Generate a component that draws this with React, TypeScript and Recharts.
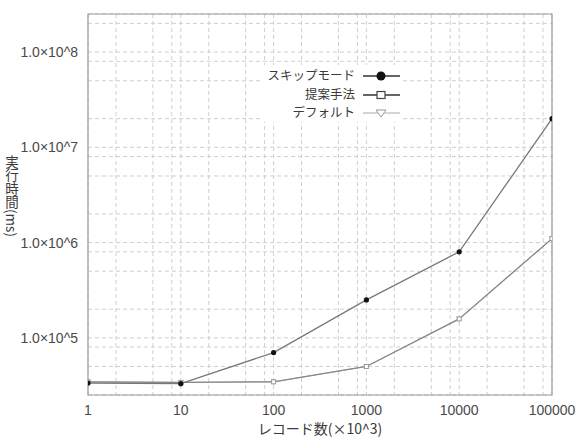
import React from 'react';
import {
  CartesianGrid,
  Line,
  LineChart,
  ReferenceArea,
  XAxis,
  YAxis,
} from 'recharts';

const records = [1, 10, 100, 1000, 10000, 100000];
const skipMode = [33500, 33000, 70000, 250000, 800000, 20000000];
const proposed = [34500, 34000, 34500, 50000, 158000, 1100000];
const defaults = [34500, 34000, 34500, 50000, 158000, 1100000];

const xTicks = [
  1, 2, 5, 8, 10, 20, 50, 80, 100, 200, 500, 800, 1000, 2000, 5000, 8000, 10000,
  20000, 50000, 80000, 100000,
];
const yTicks = [
  50000, 80000, 100000, 200000, 500000, 800000, 1000000, 2000000, 5000000,
  8000000, 10000000, 20000000, 50000000, 80000000, 100000000, 200000000,
];
const xDomain = [1, 100000];
const yDomain = [25100, 251000000];

const legendItems = ['スキップモード', '提案手法', 'デフォルト'];

const data = records.map((r, i) => ({
  r,
  skip: skipMode[i],
  proposed: proposed[i],
  def: defaults[i],
}));

const isPow10 = (v: number) => Math.abs(Math.log10(v) - Math.round(Math.log10(v))) < 1e-9;

const tickFont = { fontSize: 14, fill: '#4a4a4a', fontFamily: 'Liberation Sans, Arial, sans-serif' };

const CircleDot = (p: any) => <circle key={p.index} cx={p.cx} cy={p.cy} r={2.6} fill="#111" />;
const SquareDot = (p: any) => (
  <rect key={p.index} x={p.cx - 2} y={p.cy - 2} width={4} height={4} fill="#fff" stroke="#999" strokeWidth={1} />
);
const TriDot = (p: any) => (
  <path key={p.index} d={`M${p.cx - 2.5},${p.cy - 2}L${p.cx + 2.5},${p.cy - 2}L${p.cx},${p.cy + 2.5}Z`} fill="none" stroke="#aaa" strokeWidth={0.8} />
);

function Overlay() {
  const rows = [76, 95, 113];
  return (
    <svg width={577} height={438} style={{ position: 'absolute', left: 0, top: 0, pointerEvents: 'none' }}>
      <rect x={262} y={65} width={140} height={57} fill="#fff" />
      {legendItems.map((name, i) => (
        <g key={name}>
          <text x={355} y={rows[i]} dy="0.35em" textAnchor="end" fontSize={12.5} fill="#3a3a3a" fontFamily="Noto Sans CJK JP">
            {name}
          </text>
          <line x1={363} x2={400} y1={rows[i]} y2={rows[i]} stroke={i === 2 ? '#aaa' : '#333'} strokeWidth={i === 2 ? 1 : 1.6} />
        </g>
      ))}
      <circle cx={381} cy={rows[0]} r={4.5} fill="#111" />
      <rect x={377} y={rows[1] - 3.5} width={8} height={7} fill="#fff" stroke="#444" strokeWidth={1.2} />
      <path d={`M376,${rows[2] - 3}L386,${rows[2] - 3}L381,${rows[2] + 4}Z`} fill="#fff" stroke="#999" strokeWidth={1} />
      <text x={12} y={196} writingMode="vertical-rl" textAnchor="middle" fontSize={13.5} fill="#3a3a3a" fontFamily="Noto Sans CJK JP">
        実行時間(ms)
      </text>
    </svg>
  );
}

export default function App() {
  return (
    <div style={{ position: 'absolute', left: 0, top: 0, width: 577, height: 438, background: '#fff' }}>
      <LineChart width={577} height={438} data={data} margin={{ top: 14, right: 25, left: 0, bottom: 0 }}>
        <CartesianGrid stroke="#cfcfcf" strokeDasharray="4 3" />
        <XAxis
          dataKey="r"
          type="number"
          scale="log"
          domain={xDomain}
          ticks={xTicks}
          interval={0}
          allowDataOverflow
          height={43}
          axisLine={false}
          tickLine={false}
          tickSize={6}
          tickMargin={4}
          tick={tickFont}
          tickFormatter={(v: number) => (isPow10(v) ? String(v) : '')}
          label={{
            value: 'レコード数(×10^3)',
            position: 'insideBottom',
            offset: 4,
            fontSize: 14,
            fill: '#3a3a3a',
            fontFamily: 'Noto Sans CJK JP',
          }}
        />
        <YAxis
          type="number"
          scale="log"
          domain={yDomain}
          ticks={yTicks}
          interval={0}
          allowDataOverflow
          width={88}
          axisLine={false}
          tickLine={false}
          tickSize={6}
          tickMargin={4}
          tick={tickFont}
          tickFormatter={(v: number) => (isPow10(v) ? `1.0×10^${Math.round(Math.log10(v))}` : '')}
        />
        <ReferenceArea x1={xDomain[0]} x2={xDomain[1]} y1={yDomain[0]} y2={yDomain[1]} fill="none" stroke="#999" strokeWidth={1.2} ifOverflow="extendDomain" />
        <Line dataKey="def" stroke="#b0b0b0" strokeWidth={1} dot={TriDot} isAnimationActive={false} />
        <Line dataKey="proposed" stroke="#888" strokeWidth={1.3} dot={SquareDot} isAnimationActive={false} />
        <Line dataKey="skip" stroke="#777" strokeWidth={1.3} dot={CircleDot} isAnimationActive={false} />
      </LineChart>
      <Overlay />
    </div>
  );
}
